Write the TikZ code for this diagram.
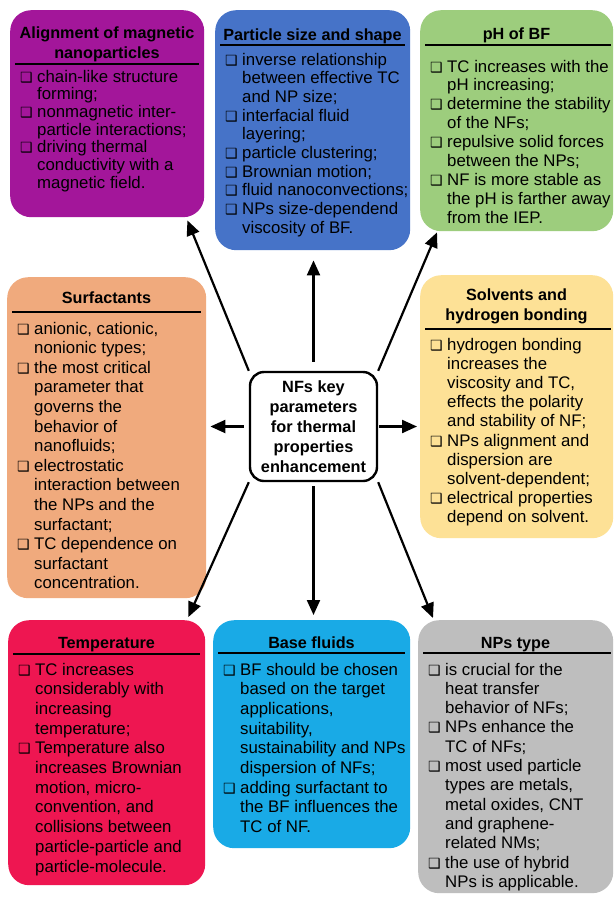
\documentclass[tikz,border=0pt]{standalone}
\usepackage{fontspec}
\setmainfont{Liberation Sans}
\newfontfamily\symfont{DejaVu Sans}
\usetikzlibrary{arrows.meta}
% shadowed square used as list bullet
\newcommand\bul{{\symfont\fontsize{14}{14}\selectfont ❑}}
\definecolor{cMag}{HTML}{A3169A}
\definecolor{cBlu}{HTML}{4673C8}
\definecolor{cGrn}{HTML}{9DCD7D}
\definecolor{cOrg}{HTML}{F0AA7D}
\definecolor{cYel}{HTML}{FDE196}
\definecolor{cRed}{HTML}{EE1651}
\definecolor{cCya}{HTML}{19AAE6}
\definecolor{cGry}{HTML}{BEBEBE}
\begin{document}
\begin{tikzpicture}[x=1pt,y=-1pt,
  card/.style={rectangle, rounded corners=21pt, inner sep=0pt, anchor=north west},
  hub/.style={rectangle, rounded corners=14pt, draw=black, line width=2.4pt, fill=white,
    minimum width=127pt, minimum height=109pt, inner sep=0pt, align=center,
    font=\bfseries\fontsize{16.3}{20}\selectfont},
  ttl/.style={anchor=base, inner sep=0pt, font=\bfseries\fontsize{16.2}{20.5}\selectfont},
  itms/.style={anchor=base west, inner sep=0pt},
  sep/.style={line width=2pt, black},
  arr/.style={line width=2.2pt, -{Triangle[length=15pt,width=13pt]}},
]
\fill[white] (0,0) rectangle (614,903);
\useasboundingbox (0,0) rectangle (614,903);

% ---------- boxes ----------
\node[card, fill=cMag, minimum width=194pt, minimum height=207pt] (mag) at (10,10) {};
\node[card, fill=cBlu, minimum width=195pt, minimum height=240pt] (blu) at (215,10) {};
\node[card, fill=cGrn, minimum width=193pt, minimum height=221pt] (grn) at (420,10) {};
\node[card, fill=cOrg, minimum width=199pt, minimum height=321pt] (org) at (7,277) {};
\node[card, fill=cYel, minimum width=193pt, minimum height=263pt] (yel) at (420,275) {};
\node[card, fill=cRed, minimum width=197pt, minimum height=265pt] (red) at (8,620) {};
\node[card, fill=cCya, minimum width=197pt, minimum height=228pt] (cya) at (213,620) {};
\node[card, fill=cGry, minimum width=195pt, minimum height=273pt] (gry) at (418,620) {};

\node[hub] (ctr) at (313.5,426.5) {NFs key\\parameters\\for thermal\\properties\\enhancement};

% ---------- Alignment of magnetic nanoparticles ----------
\node[ttl] (magT) at (107,38) {\begin{tabular}[t]{@{}c@{}}Alignment of magnetic\\nanoparticles\end{tabular}};
\draw[sep] (15,64) -- (199,64);
\node[itms, font=\fontsize{16.8}{17.7}\selectfont] (magI) at (20,82) {\begin{tabular}[t]{@{}p{17pt}@{}l@{}}
\bul & chain-like structure\\ & forming;\\
\bul & nonmagnetic inter-\\ & particle interactions;\\
\bul & driving thermal\\ & conductivity with a\\ & magnetic field.
\end{tabular}};

% ---------- Particle size and shape ----------
\node[ttl] (bluT) at (312.5,40) {\begin{tabular}[t]{@{}c@{}}Particle size and shape\end{tabular}};
\draw[sep] (220,45) -- (405,45);
\node[itms, font=\fontsize{16.8}{18.7}\selectfont] (bluI) at (225,65) {\begin{tabular}[t]{@{}p{17pt}@{}l@{}}
\bul & inverse relationship\\ & between effective TC\\ & and NP size;\\
\bul & interfacial fluid\\ & layering;\\
\bul & particle clustering;\\
\bul & Brownian motion;\\
\bul & fluid nanoconvections;\\
\bul & NPs size-dependend\\ & viscosity of BF.
\end{tabular}};

% ---------- pH of BF ----------
\node[ttl] (grnT) at (516.5,39) {\begin{tabular}[t]{@{}c@{}}pH of BF\end{tabular}};
\draw[sep] (425,45) -- (611,45);
\node[itms, font=\fontsize{16.8}{18.9}\selectfont] (grnI) at (430,72) {\begin{tabular}[t]{@{}p{17pt}@{}l@{}}
\bul & TC increases with the\\ & pH increasing;\\
\bul & determine the stability\\ & of the NFs;\\
\bul & repulsive solid forces\\ & between the NPs;\\
\bul & NF is more stable as\\ & the pH is farther away\\ & from the IEP.
\end{tabular}};

% ---------- Surfactants ----------
\node[ttl] (orgT) at (106.5,303) {\begin{tabular}[t]{@{}c@{}}Surfactants\end{tabular}};
\draw[sep] (12,312) -- (201,312);
\node[itms, font=\fontsize{16.8}{19.6}\selectfont] (orgI) at (17,334) {\begin{tabular}[t]{@{}p{17pt}@{}l@{}}
\bul & anionic, cationic,\\ & nonionic types;\\
\bul & the most critical\\ & parameter that\\ & governs the\\ & behavior of\\ & nanofluids;\\
\bul & electrostatic\\ & interaction between\\ & the NPs and the\\ & surfactant;\\
\bul & TC dependence on\\ & surfactant\\ & concentration.
\end{tabular}};

% ---------- Solvents and hydrogen bonding ----------
\node[ttl] (yelT) at (516.5,300) {\begin{tabular}[t]{@{}c@{}}Solvents and\\hydrogen bonding\end{tabular}};
\draw[sep] (425,329) -- (611,329);
\node[itms, font=\fontsize{16.8}{19.2}\selectfont] (yelI) at (430,350) {\begin{tabular}[t]{@{}p{17pt}@{}l@{}}
\bul & hydrogen bonding\\ & increases the\\ & viscosity and TC,\\ & effects the polarity\\ & and stability of NF;\\
\bul & NPs alignment and\\ & dispersion are\\ & solvent-dependent;\\
\bul & electrical properties\\ & depend on solvent.
\end{tabular}};

% ---------- Temperature ----------
\node[ttl] (redT) at (106.5,648) {\begin{tabular}[t]{@{}c@{}}Temperature\end{tabular}};
\draw[sep] (13,654) -- (200,654);
\node[itms, font=\fontsize{16.8}{19.7}\selectfont] (redI) at (18,675) {\begin{tabular}[t]{@{}p{17pt}@{}l@{}}
\bul & TC increases\\ & considerably with\\ & increasing\\ & temperature;\\
\bul & Temperature also\\ & increases Brownian\\ & motion, micro-\\ & convention, and\\ & collisions between\\ & particle-particle and\\ & particle-molecule.
\end{tabular}};

% ---------- Base fluids ----------
\node[ttl] (cyaT) at (311.5,648) {\begin{tabular}[t]{@{}c@{}}Base fluids\end{tabular}};
\draw[sep] (218,653) -- (405,653);
\node[itms, font=\fontsize{16.8}{19.7}\selectfont] (cyaI) at (223,675) {\begin{tabular}[t]{@{}p{17pt}@{}l@{}}
\bul & BF should be chosen\\ & based on the target\\ & applications,\\ & suitability,\\ & sustainability and NPs\\ & dispersion of NFs;\\
\bul & adding surfactant to\\ & the BF influences the\\ & TC of NF.
\end{tabular}};

% ---------- NPs type ----------
\node[ttl] (gryT) at (515.5,648) {\begin{tabular}[t]{@{}c@{}}NPs type\end{tabular}};
\draw[sep] (423,653) -- (611,653);
\node[itms, font=\fontsize{16.8}{19.3}\selectfont] (gryI) at (428,675) {\begin{tabular}[t]{@{}p{17pt}@{}l@{}}
\bul & is crucial for the\\ & heat transfer\\ & behavior of NFs;\\
\bul & NPs enhance the\\ & TC of NFs;\\
\bul & most used particle\\ & types are metals,\\ & metal oxides, CNT\\ & and graphene-\\ & related NMs;\\
\bul & the use of hybrid\\ & NPs is applicable.
\end{tabular}};

% ---------- arrows from the hub ----------
\draw[arr] (ctr.north west) -- ([xshift=-17pt,yshift=-3pt]mag.south east);
\draw[arr, shorten <=9pt, shorten >=10pt] (ctr.north) -- (ctr.north |- blu.south);
\draw[arr] (ctr.north east) -- ([xshift=17pt,yshift=-1pt]grn.south west);
\draw[arr, shorten <=5pt, shorten >=4pt] (ctr.west) -- (ctr.west -| org.east);
\draw[arr, shorten <=1pt, shorten >=3pt] (ctr.east) -- (ctr.east -| yel.west);
\draw[arr] (ctr.south west) -- ([xshift=-17pt,yshift=3pt]red.north east);
\draw[arr, shorten <=4pt, shorten >=5pt] (ctr.south) -- (ctr.south |- cya.north);
\draw[arr] (ctr.south east) -- ([xshift=15pt,yshift=2pt]gry.north west);
\end{tikzpicture}
\end{document}
